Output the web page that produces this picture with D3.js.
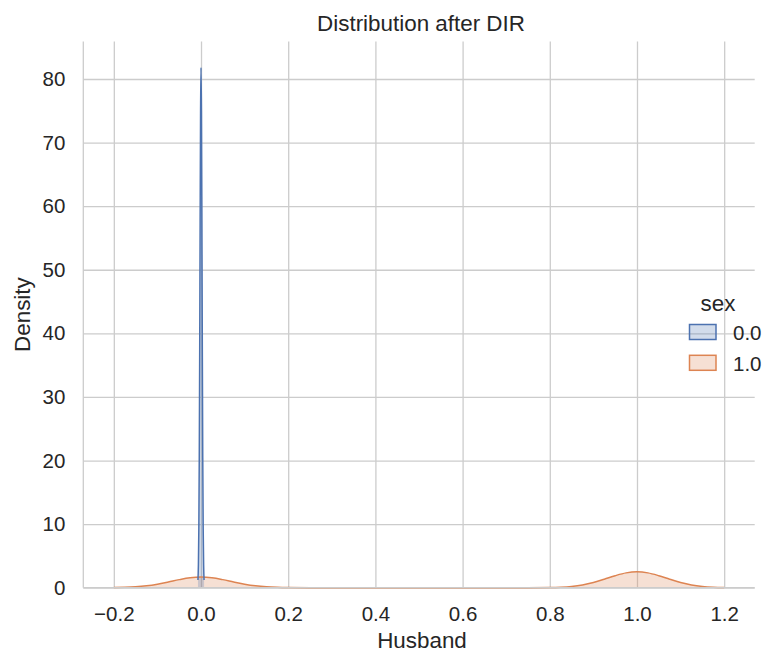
<!DOCTYPE html>
<html>
<head>
<meta charset="utf-8">
<script src="https://cdn.jsdelivr.net/npm/d3@7"></script>
<style>
  body { margin: 0; background: #fff; }
  svg { display: block; font-family: "Liberation Sans", Arial, sans-serif; }
</style>
</head>
<body>
<svg id="chart" width="766" height="655"></svg>
<script>
// hue levels (sex)
const categories = ["0.0", "1.0"];
const colors = ["#4c72b0", "#dd8452"];

// KDE for sex = 0.0 (very narrow spike at 0)
const blueX = [-0.007, -0.006, -0.005, -0.004, -0.003, -0.002, -0.001, 0, 0.001, 0.002, 0.003, 0.004, 0.005, 0.006, 0.007];
const blueY = [1.2, 3.6, 9.3, 20.4, 37.5, 57.8, 75.0, 81.8, 75.0, 57.8, 37.5, 20.4, 9.3, 3.6, 1.2];

// KDE for sex = 1.0 (two bumps at 0 and 1)
const orangeX = [-0.2, -0.175, -0.15, -0.125, -0.1, -0.075, -0.05, -0.025, 0, 0.025, 0.05, 0.075, 0.1, 0.125, 0.15, 0.175, 0.2,
  0.25, 0.3, 0.4, 0.5, 0.6, 0.7, 0.75,
  0.8, 0.825, 0.85, 0.875, 0.9, 0.925, 0.95, 0.975, 1.0, 1.025, 1.05, 1.075, 1.1, 1.125, 1.15, 1.175, 1.2];
const orangeY = [0.02, 0.055, 0.137, 0.295, 0.551, 0.898, 1.27, 1.567, 1.68, 1.567, 1.27, 0.898, 0.551, 0.295, 0.137, 0.055, 0.02,
  0.001, 0, 0, 0, 0, 0, 0.001,
  0.029, 0.083, 0.204, 0.44, 0.82, 1.34, 1.89, 2.33, 2.5, 2.33, 1.89, 1.34, 0.82, 0.44, 0.204, 0.083, 0.029];

const xTicks = [-0.2, 0, 0.2, 0.4, 0.6, 0.8, 1.0, 1.2];
const xTickLabels = ["\u22120.2", "0.0", "0.2", "0.4", "0.6", "0.8", "1.0", "1.2"];
const yTicks = [0, 10, 20, 30, 40, 50, 60, 70, 80];

const svg = d3.select("#chart");
const plotL = 83.3, plotR = 754.7, plotT = 41.5, plotB = 587.7;
const grey = "#cccccc", ink = "#262626";
const tickFont = "20.5px", labelFont = "22.4px";

const x = d3.scaleLinear().domain([-0.27, 1.27]).range([plotL, plotR]);
const y = d3.scaleLinear().domain([0, 85.9]).range([plotB, plotT]);

// grid + tick labels
const xAxis = svg.append("g")
    .attr("transform", `translate(0,${plotB})`)
    .call(d3.axisBottom(x).tickValues(xTicks)
        .tickFormat((d, i) => xTickLabels[i])
        .tickSize(-(plotB - plotT)).tickPadding(19));
const yAxis = svg.append("g")
    .attr("transform", `translate(${plotL},0)`)
    .call(d3.axisLeft(y).tickValues(yTicks)
        .tickSize(-(plotR - plotL)).tickPadding(18));

[xAxis, yAxis].forEach(a => {
    a.select(".domain").remove();
    a.selectAll("line").attr("stroke", grey).attr("stroke-width", 1.3);
    a.selectAll("text").attr("fill", ink).style("font-size", tickFont)
        .style("font-family", "'Liberation Sans', Arial, sans-serif");
});

// densities
const series = [
    { xs: blueX, ys: blueY, color: colors[0] },
    { xs: orangeX, ys: orangeY, color: colors[1] }
];

const area = d3.area()
    .x(d => x(d[0])).y0(y(0)).y1(d => y(d[1]))
    .curve(d3.curveMonotoneX);
const line = d3.line()
    .x(d => x(d[0])).y(d => y(d[1]))
    .curve(d3.curveMonotoneX);

// fills first, then lines
series.slice().reverse().forEach(s => {
    const pts = s.xs.map((v, i) => [v, s.ys[i]]);
    svg.append("path").attr("d", area(pts))
        .attr("fill", s.color).attr("fill-opacity", 0.25);
});
series.slice().reverse().forEach(s => {
    const pts = s.xs.map((v, i) => [v, s.ys[i]]);
    svg.append("path").attr("d", line(pts))
        .attr("fill", "none").attr("stroke", s.color)
        .attr("stroke-width", 1.5).attr("stroke-linejoin", "round");
});

// spines (left + bottom)
svg.append("line").attr("x1", plotL).attr("x2", plotL).attr("y1", plotT).attr("y2", plotB)
    .attr("stroke", grey).attr("stroke-width", 1.3);
svg.append("line").attr("x1", plotL).attr("x2", plotR).attr("y1", plotB).attr("y2", plotB)
    .attr("stroke", grey).attr("stroke-width", 1.3);

// labels
const cx = (plotL + plotR) / 2;
svg.append("text").attr("x", cx + 2).attr("y", 31)
    .attr("text-anchor", "middle").attr("fill", ink).style("font-size", labelFont)
    .text("Distribution after DIR");
svg.append("text").attr("x", cx + 3).attr("y", 647.5)
    .attr("text-anchor", "middle").attr("fill", ink).style("font-size", labelFont)
    .text("Husband");
svg.append("text")
    .attr("transform", `translate(30,${(plotT + plotB) / 2}) rotate(-90)`)
    .attr("text-anchor", "middle").attr("fill", ink).style("font-size", labelFont)
    .text("Density");

// legend
const lg = svg.append("g");
lg.append("text").attr("x", 718).attr("y", 311)
    .attr("text-anchor", "middle").attr("fill", ink).style("font-size", labelFont)
    .text("sex");
categories.forEach((c, i) => {
    const yy = 324.5 + i * 30.8;
    lg.append("rect").attr("x", 689.5).attr("y", yy).attr("width", 26.5).attr("height", 15)
        .attr("fill", colors[i]).attr("fill-opacity", 0.25)
        .attr("stroke", colors[i]).attr("stroke-width", 1.5);
    lg.append("text").attr("x", 733).attr("y", yy + 15.3)
        .attr("fill", ink).style("font-size", tickFont)
        .text(c);
});
</script>
</body>
</html>
